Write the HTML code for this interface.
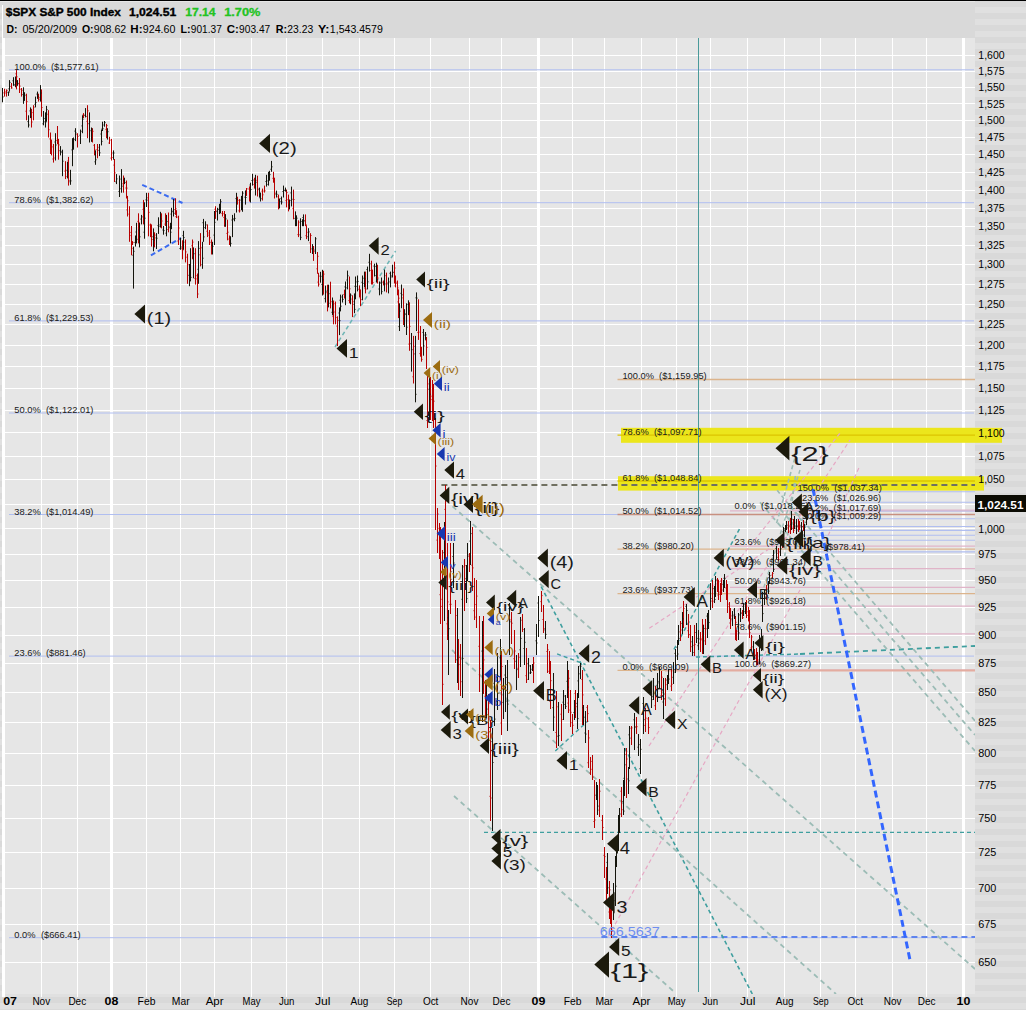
<!DOCTYPE html><html><head><meta charset="utf-8"><style>
html,body{margin:0;padding:0;width:1026px;height:1010px;overflow:hidden;background:#d9d9d9}
svg{display:block}
text{font-family:"Liberation Sans", sans-serif}
</style></head><body>
<svg width="1026" height="1010" viewBox="0 0 1026 1010">
<defs>
<pattern id="stripes" x="0" y="7" width="12" height="12" patternUnits="userSpaceOnUse">
<rect x="0" y="0" width="12" height="6" fill="#e0e0e0"/><rect x="0" y="6" width="12" height="6" fill="#d9d9d9"/>
</pattern>
<clipPath id="plot"><rect x="2" y="38" width="973" height="956"/></clipPath>
</defs>
<rect x="0" y="0" width="1026" height="1010" fill="url(#stripes)"/>
<rect x="0" y="0" width="1026" height="1" fill="#000"/>
<rect x="0" y="1" width="975" height="1" fill="#e6e6e6"/>
<rect x="2" y="5" width="1" height="989" fill="#fff"/>
<rect x="3" y="2" width="972" height="36" fill="#d9d9d9"/>
<rect x="3" y="38" width="972" height="956" fill="#e6e6e6"/>

<text x="5.8" y="15.8" font-size="11" font-weight="bold" fill="#000" textLength="115.1" lengthAdjust="spacingAndGlyphs" stroke="#000" stroke-width="0.35">$SPX S&amp;P 500 Index</text>
<text x="128.9" y="15.8" font-size="11" font-weight="bold" fill="#000" textLength="47.4" lengthAdjust="spacingAndGlyphs" stroke="#000" stroke-width="0.35">1,024.51</text>
<text x="185.2" y="15.8" font-size="11" font-weight="bold" fill="#22c322" textLength="30.4" lengthAdjust="spacingAndGlyphs" stroke="#22c322" stroke-width="0.3">17.14</text>
<text x="224.2" y="15.8" font-size="11" font-weight="bold" fill="#22c322" textLength="36.2" lengthAdjust="spacingAndGlyphs" stroke="#22c322" stroke-width="0.3">1.70%</text>
<text x="6.5" y="32.5" font-size="11" font-weight="bold" fill="#000" textLength="11.0" lengthAdjust="spacingAndGlyphs">D:</text>
<text x="22.5" y="32.5" font-size="11" font-weight="normal" fill="#000" textLength="54.6" lengthAdjust="spacingAndGlyphs">05/20/2009</text>
<text x="81.9" y="32.5" font-size="11" font-weight="bold" fill="#000" textLength="11.6" lengthAdjust="spacingAndGlyphs">O:</text>
<text x="93.8" y="32.5" font-size="11" font-weight="normal" fill="#000" textLength="32.4" lengthAdjust="spacingAndGlyphs">908.62</text>
<text x="130.3" y="32.5" font-size="11" font-weight="bold" fill="#000" textLength="12.2" lengthAdjust="spacingAndGlyphs">H:</text>
<text x="142.8" y="32.5" font-size="11" font-weight="normal" fill="#000" textLength="32.6" lengthAdjust="spacingAndGlyphs">924.60</text>
<text x="180.4" y="32.5" font-size="11" font-weight="bold" fill="#000" textLength="10.1" lengthAdjust="spacingAndGlyphs">L:</text>
<text x="190.8" y="32.5" font-size="11" font-weight="normal" fill="#000" textLength="31.1" lengthAdjust="spacingAndGlyphs">901.37</text>
<text x="226.7" y="32.5" font-size="11" font-weight="bold" fill="#000" textLength="12.1" lengthAdjust="spacingAndGlyphs">C:</text>
<text x="239.1" y="32.5" font-size="11" font-weight="normal" fill="#000" textLength="31.1" lengthAdjust="spacingAndGlyphs">903.47</text>
<text x="275.7" y="32.5" font-size="11" font-weight="bold" fill="#000" textLength="11.3" lengthAdjust="spacingAndGlyphs">R:</text>
<text x="287.3" y="32.5" font-size="11" font-weight="normal" fill="#000" textLength="25.9" lengthAdjust="spacingAndGlyphs">23.23</text>
<text x="318.0" y="32.5" font-size="11" font-weight="bold" fill="#000" textLength="11.5" lengthAdjust="spacingAndGlyphs">Y:</text>
<text x="329.8" y="32.5" font-size="11" font-weight="normal" fill="#000" textLength="53.0" lengthAdjust="spacingAndGlyphs">1,543.4579</text>
<rect x="3" y="962" width="972" height="1" fill="#fff"/>
<rect x="3" y="924" width="972" height="1" fill="#fff"/>
<rect x="3" y="888" width="972" height="1" fill="#fff"/>
<rect x="3" y="852" width="972" height="1" fill="#fff"/>
<rect x="3" y="818" width="972" height="1" fill="#fff"/>
<rect x="3" y="785" width="972" height="1" fill="#fff"/>
<rect x="3" y="753" width="972" height="1" fill="#fff"/>
<rect x="3" y="722" width="972" height="1" fill="#fff"/>
<rect x="3" y="692" width="972" height="1" fill="#fff"/>
<rect x="3" y="663" width="972" height="1" fill="#fff"/>
<rect x="3" y="635" width="972" height="1" fill="#fff"/>
<rect x="3" y="607" width="972" height="1" fill="#fff"/>
<rect x="3" y="580" width="972" height="1" fill="#fff"/>
<rect x="3" y="554" width="972" height="1" fill="#fff"/>
<rect x="3" y="528" width="972" height="1" fill="#fff"/>
<rect x="3" y="504" width="972" height="1" fill="#fff"/>
<rect x="3" y="479" width="972" height="1" fill="#fff"/>
<rect x="3" y="456" width="972" height="1" fill="#fff"/>
<rect x="3" y="432" width="972" height="1" fill="#fff"/>
<rect x="3" y="410" width="972" height="1" fill="#fff"/>
<rect x="3" y="388" width="972" height="1" fill="#fff"/>
<rect x="3" y="366" width="972" height="1" fill="#fff"/>
<rect x="3" y="345" width="972" height="1" fill="#fff"/>
<rect x="3" y="324" width="972" height="1" fill="#fff"/>
<rect x="3" y="304" width="972" height="1" fill="#fff"/>
<rect x="3" y="284" width="972" height="1" fill="#fff"/>
<rect x="3" y="264" width="972" height="1" fill="#fff"/>
<rect x="3" y="245" width="972" height="1" fill="#fff"/>
<rect x="3" y="226" width="972" height="1" fill="#fff"/>
<rect x="3" y="208" width="972" height="1" fill="#fff"/>
<rect x="3" y="190" width="972" height="1" fill="#fff"/>
<rect x="3" y="172" width="972" height="1" fill="#fff"/>
<rect x="3" y="154" width="972" height="1" fill="#fff"/>
<rect x="3" y="137" width="972" height="1" fill="#fff"/>
<rect x="3" y="120" width="972" height="1" fill="#fff"/>
<rect x="3" y="103" width="972" height="1" fill="#fff"/>
<rect x="3" y="87" width="972" height="1" fill="#fff"/>
<rect x="3" y="71" width="972" height="1" fill="#fff"/>
<rect x="3" y="55" width="972" height="1" fill="#fff"/>
<rect x="2" y="38" width="3" height="959" fill="#fff"/>
<rect x="41" y="38" width="1" height="959" fill="#fff"/>
<rect x="77" y="38" width="1" height="959" fill="#fff"/>
<rect x="110" y="38" width="3" height="959" fill="#fff"/>
<rect x="146" y="38" width="1" height="959" fill="#fff"/>
<rect x="180" y="38" width="1" height="959" fill="#fff"/>
<rect x="214" y="38" width="1" height="959" fill="#fff"/>
<rect x="251" y="38" width="1" height="959" fill="#fff"/>
<rect x="286" y="38" width="1" height="959" fill="#fff"/>
<rect x="322" y="38" width="1" height="959" fill="#fff"/>
<rect x="359" y="38" width="1" height="959" fill="#fff"/>
<rect x="394" y="38" width="1" height="959" fill="#fff"/>
<rect x="430" y="38" width="1" height="959" fill="#fff"/>
<rect x="469" y="38" width="1" height="959" fill="#fff"/>
<rect x="501" y="38" width="1" height="959" fill="#fff"/>
<rect x="537" y="38" width="3" height="959" fill="#fff"/>
<rect x="572" y="38" width="1" height="959" fill="#fff"/>
<rect x="604" y="38" width="1" height="959" fill="#fff"/>
<rect x="641" y="38" width="1" height="959" fill="#fff"/>
<rect x="676" y="38" width="1" height="959" fill="#fff"/>
<rect x="710" y="38" width="1" height="959" fill="#fff"/>
<rect x="747" y="38" width="1" height="959" fill="#fff"/>
<rect x="784" y="38" width="1" height="959" fill="#fff"/>
<rect x="820" y="38" width="1" height="959" fill="#fff"/>
<rect x="855" y="38" width="1" height="959" fill="#fff"/>
<rect x="892" y="38" width="1" height="959" fill="#fff"/>
<rect x="926" y="38" width="1" height="959" fill="#fff"/>
<rect x="962" y="38" width="3" height="959" fill="#fff"/>
<text x="3.2" y="1004.7" font-size="10.5" font-weight="bold" fill="#000" textLength="13.8" lengthAdjust="spacingAndGlyphs">07</text>
<text x="32.4" y="1004.7" font-size="10.5" font-weight="normal" fill="#000" textLength="17.8" lengthAdjust="spacingAndGlyphs">Nov</text>
<text x="68.4" y="1004.7" font-size="10.5" font-weight="normal" fill="#000" textLength="17.8" lengthAdjust="spacingAndGlyphs">Dec</text>
<text x="104.6" y="1004.7" font-size="10.5" font-weight="bold" fill="#000" textLength="13.8" lengthAdjust="spacingAndGlyphs">08</text>
<text x="137.6" y="1004.7" font-size="10.5" font-weight="normal" fill="#000" textLength="17.8" lengthAdjust="spacingAndGlyphs">Feb</text>
<text x="171.8" y="1004.7" font-size="10.5" font-weight="normal" fill="#000" textLength="17.8" lengthAdjust="spacingAndGlyphs">Mar</text>
<text x="205.7" y="1004.7" font-size="10.5" font-weight="normal" fill="#000" textLength="17.8" lengthAdjust="spacingAndGlyphs">Apr</text>
<text x="242.6" y="1004.7" font-size="10.5" font-weight="normal" fill="#000" textLength="17.8" lengthAdjust="spacingAndGlyphs">May</text>
<text x="278.9" y="1004.7" font-size="10.5" font-weight="normal" fill="#000" textLength="15.5" lengthAdjust="spacingAndGlyphs">Jun</text>
<text x="314.9" y="1004.7" font-size="10.5" font-weight="normal" fill="#000" textLength="15.5" lengthAdjust="spacingAndGlyphs">Jul</text>
<text x="350.6" y="1004.7" font-size="10.5" font-weight="normal" fill="#000" textLength="17.8" lengthAdjust="spacingAndGlyphs">Aug</text>
<text x="386.8" y="1004.7" font-size="10.5" font-weight="normal" fill="#000" textLength="15.5" lengthAdjust="spacingAndGlyphs">Sep</text>
<text x="422.9" y="1004.7" font-size="10.5" font-weight="normal" fill="#000" textLength="15.5" lengthAdjust="spacingAndGlyphs">Oct</text>
<text x="460.6" y="1004.7" font-size="10.5" font-weight="normal" fill="#000" textLength="17.8" lengthAdjust="spacingAndGlyphs">Nov</text>
<text x="492.6" y="1004.7" font-size="10.5" font-weight="normal" fill="#000" textLength="17.8" lengthAdjust="spacingAndGlyphs">Dec</text>
<text x="531.6" y="1004.7" font-size="10.5" font-weight="bold" fill="#000" textLength="13.8" lengthAdjust="spacingAndGlyphs">09</text>
<text x="563.8" y="1004.7" font-size="10.5" font-weight="normal" fill="#000" textLength="17.8" lengthAdjust="spacingAndGlyphs">Feb</text>
<text x="595.5" y="1004.7" font-size="10.5" font-weight="normal" fill="#000" textLength="17.8" lengthAdjust="spacingAndGlyphs">Mar</text>
<text x="632.5" y="1004.7" font-size="10.5" font-weight="normal" fill="#000" textLength="17.8" lengthAdjust="spacingAndGlyphs">Apr</text>
<text x="667.7" y="1004.7" font-size="10.5" font-weight="normal" fill="#000" textLength="17.8" lengthAdjust="spacingAndGlyphs">May</text>
<text x="702.5" y="1004.7" font-size="10.5" font-weight="normal" fill="#000" textLength="15.5" lengthAdjust="spacingAndGlyphs">Jun</text>
<text x="739.9" y="1004.7" font-size="10.5" font-weight="normal" fill="#000" textLength="15.5" lengthAdjust="spacingAndGlyphs">Jul</text>
<text x="775.8" y="1004.7" font-size="10.5" font-weight="normal" fill="#000" textLength="17.8" lengthAdjust="spacingAndGlyphs">Aug</text>
<text x="813.0" y="1004.7" font-size="10.5" font-weight="normal" fill="#000" textLength="15.5" lengthAdjust="spacingAndGlyphs">Sep</text>
<text x="847.6" y="1004.7" font-size="10.5" font-weight="normal" fill="#000" textLength="15.5" lengthAdjust="spacingAndGlyphs">Oct</text>
<text x="883.8" y="1004.7" font-size="10.5" font-weight="normal" fill="#000" textLength="17.8" lengthAdjust="spacingAndGlyphs">Nov</text>
<text x="917.7" y="1004.7" font-size="10.5" font-weight="normal" fill="#000" textLength="17.8" lengthAdjust="spacingAndGlyphs">Dec</text>
<text x="956.5" y="1004.7" font-size="10.5" font-weight="bold" fill="#000" textLength="13.8" lengthAdjust="spacingAndGlyphs">10</text>
<g clip-path="url(#plot)">
<rect x="621" y="427.8" width="354" height="15" fill="#ece61c"/>
<rect x="618" y="476.2" width="357" height="14.4" fill="#ece61c"/>
<line x1="9" y1="69.8" x2="974" y2="69.8" stroke="#b0bef0" stroke-width="1.0" opacity="1"/>
<line x1="9" y1="202.7" x2="974" y2="202.7" stroke="#b0bef0" stroke-width="1.0" opacity="1"/>
<line x1="9" y1="320.9" x2="974" y2="320.9" stroke="#b0bef0" stroke-width="1.0" opacity="1"/>
<line x1="9" y1="413.0" x2="974" y2="413.0" stroke="#b0bef0" stroke-width="1.0" opacity="1"/>
<line x1="9" y1="514.5" x2="974" y2="514.5" stroke="#b0bef0" stroke-width="1.0" opacity="1"/>
<line x1="9" y1="656.1" x2="974" y2="656.1" stroke="#b0bef0" stroke-width="1.0" opacity="1"/>
<line x1="9" y1="937.7" x2="974" y2="937.7" stroke="#b0bef0" stroke-width="1.0" opacity="1"/>
<line x1="617.5" y1="379.5" x2="975" y2="379.5" stroke="#dcb48c" stroke-width="1.3" opacity="1"/>
<line x1="617.5" y1="435.1" x2="975" y2="435.1" stroke="#dcc400" stroke-width="1.3" opacity="1"/>
<line x1="617.5" y1="481.0" x2="975" y2="481.0" stroke="#dcc400" stroke-width="1.3" opacity="1"/>
<line x1="617.5" y1="514.5" x2="975" y2="514.5" stroke="#c89080" stroke-width="1.3" opacity="1"/>
<line x1="617.5" y1="549.1" x2="975" y2="549.1" stroke="#dcb48c" stroke-width="1.3" opacity="1"/>
<line x1="617.5" y1="593.7" x2="975" y2="593.7" stroke="#dcb48c" stroke-width="1.3" opacity="1"/>
<line x1="617.5" y1="670.3" x2="975" y2="670.3" stroke="#dcb48c" stroke-width="1.3" opacity="1"/>
<line x1="730" y1="510.8" x2="975" y2="510.8" stroke="#e0b4c8" stroke-width="1.2" opacity="1"/>
<line x1="730" y1="546.2" x2="975" y2="546.2" stroke="#e0b4c8" stroke-width="1.2" opacity="1"/>
<line x1="730" y1="568.7" x2="975" y2="568.7" stroke="#e0b4c8" stroke-width="1.2" opacity="1"/>
<line x1="730" y1="587.3" x2="975" y2="587.3" stroke="#e0b4c8" stroke-width="1.2" opacity="1"/>
<line x1="730" y1="606.2" x2="975" y2="606.2" stroke="#e0b4c8" stroke-width="1.2" opacity="1"/>
<line x1="730" y1="633.8" x2="975" y2="633.8" stroke="#e0b4c8" stroke-width="1.2" opacity="1"/>
<line x1="730" y1="670.1" x2="975" y2="670.1" stroke="#e0b4c8" stroke-width="1.2" opacity="1"/>
<line x1="797" y1="491.8" x2="975" y2="491.8" stroke="#b0bef0" stroke-width="1.1" opacity="1"/>
<line x1="797" y1="502.2" x2="975" y2="502.2" stroke="#b0bef0" stroke-width="1.1" opacity="1"/>
<line x1="797" y1="511.0" x2="975" y2="511.0" stroke="#b0bef0" stroke-width="1.1" opacity="1"/>
<line x1="797" y1="518.7" x2="975" y2="518.7" stroke="#b0bef0" stroke-width="1.1" opacity="1"/>
<line x1="797" y1="526.5" x2="975" y2="526.5" stroke="#b0bef0" stroke-width="1.1" opacity="1"/>
<line x1="797" y1="530.4" x2="975" y2="530.4" stroke="#b0bef0" stroke-width="1.1" opacity="1"/>
<line x1="797" y1="535.3" x2="975" y2="535.3" stroke="#b0bef0" stroke-width="1.1" opacity="1"/>
<line x1="797" y1="540.2" x2="975" y2="540.2" stroke="#b0bef0" stroke-width="1.1" opacity="1"/>
<line x1="797" y1="551.9" x2="975" y2="551.9" stroke="#b0bef0" stroke-width="1.1" opacity="1"/>
<line x1="790" y1="510.0" x2="975" y2="510.0" stroke="#e0b4c8" stroke-width="1.2" opacity="1"/>
<line x1="665" y1="670.4" x2="975" y2="670.4" stroke="#e4aca0" stroke-width="2" opacity="1"/>
<line x1="441.4" y1="485.1" x2="975" y2="485.1" stroke="#707060" stroke-width="2" stroke-dasharray="6,4" opacity="1"/>
<line x1="484" y1="832.4" x2="975" y2="832.4" stroke="#3f9f9f" stroke-width="1.3" stroke-dasharray="4,3" opacity="1"/>
<line x1="601.4" y1="937.0" x2="975" y2="937.0" stroke="#5f84ee" stroke-width="2" stroke-dasharray="6,4" opacity="1"/>
<line x1="142.2" y1="184.8" x2="182.5" y2="203.0" stroke="#3c6cf0" stroke-width="2" stroke-dasharray="5,3"/>
<line x1="150.9" y1="255.3" x2="181.0" y2="237.9" stroke="#3c6cf0" stroke-width="2" stroke-dasharray="5,3"/>
<line x1="335.0" y1="347.0" x2="395.6" y2="251.0" stroke="#6cb4b4" stroke-width="1.5" stroke-dasharray="4,3"/>
<line x1="452.5" y1="506.3" x2="975.0" y2="969.0" stroke="#9cbcb6" stroke-width="1.8" stroke-dasharray="5,4"/>
<line x1="541.2" y1="586.7" x2="752.3" y2="994.0" stroke="#3f9f9f" stroke-width="1.6" stroke-dasharray="4,3"/>
<line x1="452.0" y1="650.0" x2="836.0" y2="994.0" stroke="#9cbcb6" stroke-width="1.8" stroke-dasharray="5,4"/>
<line x1="454.0" y1="796.0" x2="675.0" y2="992.6" stroke="#9cbcb6" stroke-width="1.8" stroke-dasharray="5,4"/>
<line x1="557.1" y1="653.9" x2="585.6" y2="664.5" stroke="#3f9f9f" stroke-width="1.4" stroke-dasharray="4,3"/>
<line x1="555.3" y1="751.0" x2="588.3" y2="720.7" stroke="#3f9f9f" stroke-width="1.4" stroke-dasharray="4,3"/>
<line x1="674.0" y1="649.4" x2="740.0" y2="528.0" stroke="#3f9f9f" stroke-width="1.5" stroke-dasharray="4,3"/>
<line x1="696.0" y1="657.0" x2="800.0" y2="654.0" stroke="#3f9f9f" stroke-width="1.5" stroke-dasharray="4,3"/>
<line x1="800.0" y1="654.0" x2="975.0" y2="646.0" stroke="#3f9f9f" stroke-width="1.8" stroke-dasharray="5,4"/>
<line x1="608.4" y1="936.5" x2="800.0" y2="590.0" stroke="#e6a8c4" stroke-width="1.2" stroke-dasharray="4,3"/>
<line x1="649.0" y1="746.0" x2="850.0" y2="440.0" stroke="#e6a8c4" stroke-width="1.2" stroke-dasharray="4,3"/>
<line x1="649.3" y1="628.3" x2="790.0" y2="535.0" stroke="#e6a8c4" stroke-width="1.2" stroke-dasharray="4,3"/>
<line x1="760.0" y1="502.4" x2="975.0" y2="751.0" stroke="#9cbcb6" stroke-width="1.8" stroke-dasharray="5,4"/>
<line x1="780.0" y1="508.8" x2="975.0" y2="735.0" stroke="#9cbcb6" stroke-width="1.8" stroke-dasharray="5,4"/>
<line x1="790.0" y1="505.7" x2="975.0" y2="720.8" stroke="#9cbcb6" stroke-width="1.8" stroke-dasharray="5,4"/>
<line x1="813.0" y1="489.0" x2="910.5" y2="962.5" stroke="#3366ff" stroke-width="3" stroke-dasharray="7,4"/>
<line x1="794.7" y1="458.6" x2="776.5" y2="523.5" stroke="#9cbcb6" stroke-width="1.6" stroke-dasharray="4,3"/>
<line x1="795.4" y1="476.0" x2="784.4" y2="558.4" stroke="#9cbcb6" stroke-width="1.6" stroke-dasharray="4,3"/>
<line x1="777.2" y1="490.3" x2="806.5" y2="526.7" stroke="#9cbcb6" stroke-width="1.6" stroke-dasharray="4,3"/>
<line x1="800.0" y1="470.0" x2="760.0" y2="600.0" stroke="#9cbcb6" stroke-width="1.4" stroke-dasharray="4,3"/>
<line x1="839.8" y1="433.3" x2="740.0" y2="558.4" stroke="#e6a8c4" stroke-width="1.2" stroke-dasharray="4,3"/>
<line x1="858.8" y1="468.0" x2="827.0" y2="538.0" stroke="#e6a8c4" stroke-width="1.2" stroke-dasharray="4,3"/>
<rect x="698" y="38" width="1" height="954" fill="#4a9a9a"/>
<path d="M4.5,88.7V96.6M3.5,92.9h1M4.5,91.8h1M6.5,89.4V96.6M5.5,93.1h1M6.5,90.4h1M11.5,83.0V88.7M10.5,86.4h1M11.5,87.9h1M16.5,70.1V89.4M15.5,73.8h1M16.5,76.8h1M19.5,78.0V93.0M18.5,83.9h1M19.5,86.1h1M21.5,88.0V96.6M20.5,89.3h1M21.5,90.3h1M26.5,93.7V120.3M25.5,111.2h1M26.5,101.6h1M31.5,108.8V127.5M30.5,116.9h1M31.5,122.0h1M33.5,105.2V120.3M32.5,112.6h1M33.5,107.2h1M38.5,93.7V101.6M37.5,98.2h1M38.5,97.4h1M41.5,89.4V116.7M40.5,93.5h1M41.5,107.5h1M48.5,110.2V137.5M47.5,114.2h1M48.5,129.7h1M50.5,132.5V154.0M49.5,138.9h1M50.5,141.4h1M51.5,139.6V155.4M50.5,142.2h1M51.5,146.9h1M53.5,144.0V162.6M52.5,159.0h1M53.5,158.0h1M57.5,126.0V144.0M56.5,140.5h1M57.5,141.6h1M58.5,138.9V159.7M57.5,143.9h1M58.5,144.9h1M65.5,161.2V179.1M64.5,171.1h1M65.5,176.6h1M68.5,156.9V185.6M67.5,161.0h1M68.5,180.4h1M77.5,133.2V147.5M76.5,134.6h1M77.5,136.4h1M83.5,113.1V118.1M82.5,115.0h1M83.5,115.1h1M87.5,105.2V138.2M86.5,121.3h1M87.5,110.8h1M92.5,128.2V142.5M91.5,135.7h1M92.5,131.3h1M94.5,144.0V155.4M93.5,145.3h1M94.5,149.9h1M97.5,144.0V158.3M96.5,149.6h1M97.5,147.3h1M106.5,123.9V138.2M105.5,129.4h1M106.5,125.6h1M109.5,136.8V144.0M108.5,143.0h1M109.5,140.1h1M111.5,138.9V160.5M110.5,158.1h1M111.5,157.5h1M114.5,159.0V182.0M113.5,165.1h1M114.5,172.8h1M123.5,175.5V192.7M122.5,183.8h1M123.5,179.7h1M126.5,180.5V198.5M125.5,188.0h1M126.5,188.1h1M127.5,195.9V216.5M126.5,209.9h1M127.5,200.8h1M129.5,206.2V241.8M128.5,214.1h1M129.5,235.6h1M131.5,226.0V255.3M130.5,232.4h1M131.5,248.3h1M132.5,241.1V245.0M131.5,243.5h1M132.5,242.6h1M138.5,213.3V243.4M137.5,221.4h1M138.5,222.4h1M143.5,199.9V224.4M142.5,209.3h1M143.5,211.3h1M148.5,192.8V236.3M147.5,197.8h1M148.5,212.4h1M150.5,223.6V237.1M149.5,225.0h1M150.5,233.6h1M151.5,224.4V246.6M150.5,235.0h1M151.5,239.5h1M154.5,232.3V247.4M153.5,243.3h1M154.5,235.1h1M161.5,213.3V228.4M160.5,220.9h1M161.5,221.0h1M165.5,213.3V226.0M164.5,224.1h1M165.5,221.7h1M168.5,212.5V232.3M167.5,229.5h1M168.5,227.8h1M175.5,198.3V214.9M174.5,209.5h1M175.5,208.7h1M176.5,210.2V218.1M175.5,216.6h1M176.5,217.1h1M178.5,215.7V245.0M177.5,241.0h1M178.5,228.0h1M182.5,240.3V259.3M181.5,248.7h1M182.5,250.0h1M185.5,239.5V262.4M184.5,242.1h1M185.5,251.9h1M187.5,253.7V283.8M186.5,257.2h1M187.5,264.7h1M192.5,239.5V259.3M191.5,245.7h1M192.5,242.1h1M195.5,248.2V284.6M194.5,278.4h1M195.5,275.7h1M197.5,273.5V298.1M196.5,278.9h1M197.5,294.0h1M200.5,233.1V266.4M199.5,254.8h1M200.5,247.8h1M207.5,224.4V237.1M206.5,231.3h1M207.5,235.1h1M209.5,230.0V245.0M208.5,233.0h1M209.5,237.8h1M211.5,239.5V254.5M210.5,242.3h1M211.5,242.9h1M215.5,206.2V218.9M214.5,209.3h1M215.5,211.0h1M222.5,211.0V216.5M221.5,213.4h1M222.5,213.7h1M224.5,211.0V226.8M223.5,217.5h1M224.5,219.0h1M227.5,219.7V240.3M226.5,233.4h1M227.5,232.2h1M229.5,235.5V245.0M228.5,239.1h1M229.5,236.9h1M237.5,196.7V204.6M236.5,198.5h1M237.5,200.3h1M239.5,199.1V212.5M238.5,210.8h1M239.5,210.9h1M246.5,188.0V195.9M245.5,192.0h1M246.5,188.8h1M249.5,186.4V201.5M248.5,189.0h1M249.5,192.7h1M254.5,177.7V188.6M253.5,184.5h1M254.5,185.1h1M257.5,175.7V196.5M256.5,180.3h1M257.5,189.9h1M262.5,188.6V200.5M261.5,191.1h1M262.5,194.8h1M264.5,185.6V192.6M263.5,191.0h1M264.5,190.8h1M273.5,171.8V182.7M272.5,178.3h1M273.5,178.8h1M274.5,177.7V198.5M273.5,179.9h1M274.5,193.1h1M278.5,194.6V209.4M277.5,196.8h1M278.5,204.8h1M286.5,189.6V207.4M285.5,200.6h1M286.5,192.5h1M288.5,194.6V211.4M287.5,199.7h1M288.5,206.2h1M293.5,189.6V219.3M292.5,208.6h1M293.5,199.5h1M298.5,220.3V237.1M297.5,234.6h1M298.5,222.2h1M305.5,214.4V226.2M304.5,220.5h1M305.5,224.6h1M306.5,225.2V239.1M305.5,235.7h1M306.5,232.3h1M310.5,233.2V253.0M309.5,242.8h1M310.5,235.5h1M313.5,246.0V260.9M312.5,249.2h1M313.5,251.6h1M317.5,252.0V273.8M316.5,268.8h1M317.5,256.3h1M318.5,272.8V286.6M317.5,282.1h1M318.5,284.2h1M323.5,270.8V294.6M322.5,278.4h1M323.5,274.1h1M327.5,284.7V311.4M326.5,292.7h1M327.5,293.0h1M330.5,281.7V308.4M329.5,303.3h1M330.5,301.7h1M333.5,300.5V324.3M332.5,316.6h1M333.5,303.8h1M335.5,301.5V324.3M334.5,312.0h1M335.5,317.5h1M337.5,316.3V346.0M336.5,326.1h1M337.5,320.5h1M344.5,289.6V298.5M343.5,294.5h1M344.5,293.3h1M349.5,276.5V303.3M348.5,300.5h1M349.5,288.8h1M352.5,295.3V317.1M351.5,299.1h1M352.5,301.7h1M359.5,285.4V297.3M358.5,289.3h1M359.5,295.8h1M360.5,289.4V306.2M359.5,297.9h1M360.5,299.6h1M365.5,271.6V293.4M364.5,288.6h1M365.5,289.0h1M371.5,260.7V284.5M370.5,270.5h1M371.5,280.7h1M372.5,269.6V284.5M371.5,281.3h1M372.5,282.6h1M377.5,264.7V283.5M376.5,276.3h1M377.5,278.0h1M383.5,280.5V285.4M382.5,282.2h1M383.5,281.5h1M386.5,272.6V292.4M385.5,275.7h1M386.5,282.9h1M394.5,261.7V283.5M393.5,272.1h1M394.5,268.0h1M395.5,275.5V287.4M394.5,285.9h1M395.5,283.4h1M397.5,280.5V295.3M396.5,282.2h1M397.5,287.9h1M398.5,289.4V318.1M397.5,301.9h1M398.5,298.2h1M403.5,288.4V325.0M402.5,297.9h1M403.5,315.4h1M409.5,302.3V350.8M408.5,344.1h1M409.5,326.4h1M413.5,335.9V383.5M412.5,376.8h1M413.5,346.3h1M418.5,299.3V339.9M417.5,332.5h1M418.5,332.1h1M420.5,326.0V356.7M419.5,353.6h1M420.5,352.0h1M421.5,346.8V361.7M420.5,350.5h1M421.5,359.4h1M426.5,337.0V369.0M425.5,340.3h1M426.5,347.4h1M427.5,373.0V428.0M426.5,420.5h1M427.5,383.9h1M430.5,377.0V420.0M429.5,409.6h1M430.5,396.2h1M432.5,380.0V421.0M431.5,399.6h1M432.5,396.3h1M433.5,384.0V428.0M432.5,395.2h1M433.5,401.2h1M435.5,418.0V530.0M434.5,431.9h1M435.5,466.0h1M437.5,508.0V553.0M436.5,540.1h1M437.5,514.0h1M439.5,523.0V559.0M438.5,528.4h1M439.5,553.1h1M440.5,527.0V624.0M439.5,594.7h1M440.5,606.4h1M442.5,550.0V705.0M441.5,599.3h1M442.5,684.3h1M445.5,485.0V561.0M444.5,509.4h1M445.5,492.8h1M447.5,543.0V640.0M446.5,623.8h1M447.5,601.9h1M450.5,543.0V614.0M449.5,604.4h1M450.5,604.3h1M455.5,600.0V663.0M454.5,653.1h1M455.5,615.5h1M458.5,639.0V690.0M457.5,668.9h1M458.5,657.5h1M460.5,644.0V696.0M459.5,664.3h1M460.5,681.7h1M464.5,559.0V611.0M463.5,566.9h1M464.5,565.6h1M469.5,553.0V572.0M468.5,556.4h1M469.5,562.5h1M472.5,527.0V591.0M471.5,565.2h1M472.5,567.9h1M474.5,578.0V620.0M473.5,610.7h1M474.5,604.5h1M476.5,580.0V628.0M475.5,617.1h1M476.5,596.1h1M479.5,616.0V692.0M478.5,646.3h1M479.5,668.5h1M483.5,616.0V694.0M482.5,679.0h1M483.5,659.9h1M485.5,680.0V719.0M484.5,696.3h1M485.5,714.9h1M488.5,694.0V747.0M487.5,741.3h1M488.5,703.6h1M490.5,720.0V821.0M489.5,796.3h1M490.5,798.0h1M501.5,651.0V735.0M500.5,723.0h1M501.5,666.5h1M511.5,612.0V644.0M510.5,619.9h1M511.5,623.2h1M514.5,630.0V669.0M513.5,658.7h1M514.5,651.0h1M518.5,653.0V678.0M517.5,668.3h1M518.5,657.3h1M522.5,614.0V632.0M521.5,620.2h1M522.5,629.5h1M526.5,648.0V683.0M525.5,675.7h1M526.5,679.4h1M533.5,657.0V683.0M532.5,669.2h1M533.5,663.0h1M541.5,591.0V612.0M540.5,601.6h1M541.5,595.6h1M543.5,605.0V633.0M542.5,619.5h1M543.5,628.5h1M547.5,644.0V673.0M546.5,651.5h1M547.5,649.8h1M549.5,651.0V674.0M548.5,671.3h1M549.5,662.2h1M550.5,661.0V709.0M549.5,701.4h1M550.5,680.7h1M556.5,691.0V748.0M555.5,732.5h1M556.5,706.8h1M561.5,704.0V741.0M560.5,714.2h1M561.5,719.5h1M568.5,670.0V713.0M567.5,703.1h1M568.5,678.3h1M570.5,690.0V727.0M569.5,710.0h1M570.5,712.3h1M572.5,714.0V734.0M571.5,722.7h1M572.5,725.3h1M575.5,690.0V718.0M574.5,693.3h1M575.5,706.7h1M582.5,670.0V725.0M581.5,679.5h1M582.5,694.9h1M587.5,705.0V722.0M586.5,707.4h1M587.5,713.6h1M588.5,730.0V768.0M587.5,762.7h1M588.5,737.9h1M590.5,757.0V775.0M589.5,773.1h1M590.5,769.3h1M592.5,755.0V780.0M591.5,761.4h1M592.5,777.1h1M594.5,780.0V828.0M593.5,821.5h1M594.5,820.0h1M599.5,779.0V817.0M598.5,810.1h1M599.5,791.2h1M602.5,815.0V840.0M601.5,820.4h1M602.5,827.5h1M604.5,847.0V878.0M603.5,855.3h1M604.5,856.6h1M606.5,867.0V901.0M605.5,879.1h1M606.5,871.4h1M609.5,881.0V919.0M608.5,912.0h1M609.5,889.9h1M610.5,897.0V924.0M609.5,902.2h1M610.5,911.2h1M611.5,906.0V938.0M610.5,918.4h1M611.5,931.5h1M621.5,787.0V817.0M620.5,791.2h1M621.5,809.7h1M626.5,748.0V798.0M625.5,754.4h1M626.5,759.0h1M631.5,726.0V745.0M630.5,728.2h1M631.5,727.9h1M636.5,717.0V734.0M635.5,726.6h1M636.5,726.7h1M645.5,708.0V732.0M644.5,725.4h1M645.5,718.1h1M648.5,717.0V734.0M647.5,718.9h1M648.5,727.5h1M655.5,686.0V710.0M654.5,705.7h1M655.5,689.2h1M661.5,671.0V700.0M660.5,695.7h1M661.5,677.2h1M665.5,678.0V706.0M664.5,699.0h1M665.5,684.7h1M671.5,669.0V691.0M670.5,686.1h1M671.5,684.3h1M680.5,621.0V641.0M679.5,631.9h1M680.5,630.0h1M683.5,601.0V628.0M682.5,624.5h1M683.5,608.4h1M688.5,614.0V638.0M687.5,630.7h1M688.5,634.5h1M690.5,625.0V652.0M689.5,634.8h1M690.5,646.7h1M694.5,625.0V656.0M693.5,645.3h1M694.5,644.6h1M700.5,632.0V652.0M699.5,643.1h1M700.5,638.9h1M702.5,619.0V654.0M701.5,639.9h1M702.5,624.7h1M705.5,619.0V645.0M704.5,640.9h1M705.5,628.8h1M712.5,580.0V608.0M711.5,601.1h1M712.5,601.2h1M717.5,578.0V592.0M716.5,580.7h1M717.5,579.8h1M718.5,580.0V600.0M717.5,595.0h1M718.5,592.1h1M720.5,583.0V602.0M719.5,594.5h1M720.5,589.3h1M721.5,578.0V595.0M720.5,581.0h1M721.5,590.0h1M726.5,580.0V600.0M725.5,587.9h1M726.5,587.1h1M727.5,584.0V613.0M726.5,598.6h1M727.5,606.7h1M729.5,602.0V619.0M728.5,604.1h1M729.5,609.3h1M730.5,608.0V629.0M729.5,623.1h1M730.5,615.9h1M735.5,616.0V640.0M734.5,618.4h1M735.5,622.3h1M736.5,630.0V641.0M735.5,639.7h1M736.5,631.1h1M742.5,610.0V619.0M741.5,612.8h1M742.5,617.7h1M746.5,600.0V618.0M745.5,613.1h1M746.5,611.8h1M748.5,607.0V621.0M747.5,615.4h1M748.5,612.4h1M749.5,610.0V638.0M748.5,621.6h1M749.5,632.7h1M751.5,635.0V651.0M750.5,648.0h1M751.5,636.9h1M754.5,649.0V660.0M753.5,653.4h1M754.5,657.9h1M756.5,648.0V665.0M755.5,656.0h1M756.5,656.9h1M757.5,652.0V665.0M756.5,661.1h1M757.5,660.0h1M766.5,585.0V600.0M765.5,589.4h1M766.5,588.8h1M772.5,572.0V578.0M771.5,575.1h1M772.5,573.4h1M778.5,548.0V561.0M777.5,553.3h1M778.5,559.5h1M782.5,535.0V548.0M781.5,542.9h1M782.5,537.4h1M788.5,521.0V533.0M787.5,528.0h1M788.5,526.1h1M790.5,518.0V534.0M789.5,531.2h1M790.5,525.1h1M793.5,519.0V533.0M792.5,528.5h1M793.5,530.3h1M798.5,519.0V532.0M797.5,526.8h1M798.5,521.3h1M799.5,521.0V530.0M798.5,527.5h1M799.5,527.0h1M803.5,520.0V531.0M802.5,526.6h1M803.5,524.7h1" stroke="#b80000" stroke-width="1" fill="none"/>
<path d="M2.5,88.0V102.3M1.5,91.2h1M2.5,96.9h1M8.5,91.6V95.9M7.5,92.3h1M8.5,92.3h1M9.5,80.1V91.6M8.5,88.8h1M9.5,82.4h1M13.5,77.2V85.8M12.5,80.8h1M13.5,84.8h1M15.5,76.5V87.3M14.5,85.0h1M15.5,80.1h1M17.5,80.1V85.8M16.5,81.5h1M17.5,83.4h1M23.5,87.3V103.8M22.5,94.6h1M23.5,93.1h1M24.5,92.3V100.9M23.5,96.3h1M24.5,95.2h1M28.5,115.3V127.5M27.5,121.6h1M28.5,125.0h1M30.5,107.4V118.1M29.5,110.9h1M30.5,116.9h1M35.5,96.6V107.4M34.5,104.3h1M35.5,102.6h1M37.5,91.6V98.8M36.5,94.1h1M37.5,96.3h1M40.5,85.1V101.6M39.5,99.2h1M40.5,93.0h1M43.5,111.0V125.3M42.5,123.8h1M43.5,121.8h1M45.5,112.4V127.5M44.5,118.5h1M45.5,122.0h1M46.5,105.9V121.7M45.5,113.3h1M46.5,109.6h1M55.5,133.2V160.5M54.5,142.0h1M55.5,145.0h1M60.5,146.1V155.4M59.5,150.7h1M60.5,151.4h1M62.5,149.7V176.2M61.5,152.4h1M62.5,161.2h1M67.5,161.9V178.4M66.5,170.3h1M67.5,171.7h1M70.5,169.8V184.8M69.5,181.8h1M70.5,180.9h1M72.5,138.2V166.2M71.5,149.9h1M72.5,143.3h1M73.5,137.5V149.7M72.5,139.3h1M73.5,139.4h1M75.5,128.2V141.1M74.5,131.1h1M75.5,133.0h1M80.5,129.6V144.0M79.5,135.2h1M80.5,131.3h1M82.5,115.3V133.2M81.5,125.9h1M82.5,119.2h1M85.5,108.1V117.4M84.5,115.4h1M85.5,116.4h1M89.5,112.4V142.5M88.5,123.7h1M89.5,121.8h1M91.5,127.5V141.8M90.5,130.7h1M91.5,129.2h1M95.5,150.4V164.8M94.5,161.8h1M95.5,159.8h1M99.5,144.0V156.1M98.5,150.4h1M99.5,152.8h1M101.5,129.6V145.4M100.5,134.0h1M101.5,141.4h1M102.5,121.7V131.0M101.5,129.0h1M102.5,128.7h1M104.5,121.0V126.7M103.5,125.0h1M104.5,122.6h1M107.5,128.2V139.6M106.5,131.9h1M107.5,131.7h1M113.5,150.4V159.7M112.5,153.0h1M113.5,153.0h1M116.5,174.1V184.1M115.5,181.8h1M116.5,178.9h1M119.5,175.5V197.0M118.5,191.4h1M119.5,179.1h1M121.5,169.1V192.7M120.5,188.7h1M121.5,186.2h1M124.5,177.7V184.1M123.5,180.0h1M124.5,182.5h1M133.5,246.6V288.6M132.5,255.2h1M133.5,251.3h1M135.5,235.5V246.6M134.5,242.4h1M135.5,241.3h1M136.5,222.8V243.4M135.5,232.0h1M136.5,239.3h1M139.5,222.8V247.4M138.5,230.0h1M139.5,236.8h1M141.5,214.9V224.4M140.5,219.1h1M141.5,216.9h1M144.5,202.3V238.7M143.5,232.2h1M144.5,218.2h1M146.5,192.8V207.0M145.5,199.9h1M146.5,200.2h1M153.5,228.4V251.3M152.5,236.7h1M153.5,240.2h1M156.5,233.1V249.0M155.5,237.9h1M156.5,238.2h1M158.5,217.3V233.9M157.5,225.7h1M158.5,226.4h1M160.5,211.8V227.6M159.5,224.9h1M160.5,219.0h1M163.5,226.0V234.7M162.5,230.0h1M163.5,230.6h1M166.5,214.9V236.3M165.5,233.2h1M166.5,221.5h1M170.5,222.8V243.4M169.5,226.9h1M170.5,232.2h1M171.5,207.8V229.2M170.5,214.1h1M171.5,211.2h1M173.5,199.1V216.5M172.5,211.8h1M173.5,213.3h1M180.5,237.9V249.8M179.5,248.5h1M180.5,247.0h1M183.5,230.8V249.8M182.5,235.6h1M183.5,237.5h1M189.5,264.0V286.2M188.5,275.3h1M189.5,267.4h1M190.5,248.2V281.4M189.5,272.5h1M190.5,277.4h1M193.5,247.4V278.3M192.5,257.2h1M193.5,253.7h1M198.5,241.1V283.8M197.5,269.3h1M198.5,248.4h1M202.5,241.8V268.8M201.5,264.7h1M202.5,258.2h1M203.5,218.9V241.8M202.5,222.7h1M203.5,236.9h1M205.5,221.3V229.2M204.5,227.5h1M205.5,224.9h1M212.5,241.8V254.5M211.5,245.2h1M212.5,246.3h1M214.5,211.0V245.0M213.5,235.1h1M214.5,222.3h1M217.5,207.8V220.5M216.5,211.6h1M217.5,209.2h1M219.5,203.8V214.1M218.5,209.4h1M219.5,206.4h1M220.5,199.1V213.3M219.5,211.2h1M220.5,201.7h1M225.5,214.1V226.8M224.5,225.4h1M225.5,218.9h1M230.5,236.3V246.6M229.5,237.9h1M230.5,243.4h1M232.5,214.9V237.1M231.5,220.0h1M232.5,218.6h1M234.5,213.3V221.3M233.5,219.6h1M234.5,218.4h1M236.5,192.8V212.5M235.5,198.6h1M236.5,199.4h1M241.5,195.9V210.2M240.5,200.1h1M241.5,208.4h1M242.5,191.2V211.8M241.5,199.1h1M242.5,193.2h1M245.5,190.4V204.6M244.5,197.2h1M245.5,197.5h1M250.5,182.7V202.5M249.5,185.0h1M250.5,189.5h1M252.5,173.8V185.6M251.5,180.5h1M252.5,180.0h1M255.5,174.8V195.5M254.5,183.3h1M255.5,182.3h1M259.5,187.6V197.5M258.5,189.0h1M259.5,195.2h1M260.5,192.6V201.5M259.5,197.9h1M260.5,198.7h1M266.5,174.8V186.6M265.5,181.5h1M266.5,184.4h1M268.5,171.8V185.6M267.5,180.9h1M268.5,175.7h1M269.5,170.8V180.7M268.5,172.8h1M269.5,174.6h1M271.5,160.9V171.8M270.5,169.3h1M271.5,166.8h1M276.5,190.6V197.5M275.5,194.1h1M276.5,194.3h1M279.5,198.5V208.4M278.5,200.1h1M279.5,201.6h1M281.5,196.5V204.5M280.5,198.6h1M281.5,202.0h1M283.5,185.6V197.5M282.5,191.5h1M283.5,190.5h1M285.5,187.6V191.6M284.5,190.2h1M285.5,190.4h1M289.5,199.5V209.4M288.5,205.0h1M289.5,200.6h1M291.5,186.6V206.4M290.5,192.9h1M291.5,199.3h1M295.5,211.4V226.2M294.5,218.4h1M295.5,218.4h1M296.5,215.3V226.2M295.5,224.2h1M296.5,218.2h1M300.5,218.3V240.1M299.5,234.8h1M300.5,237.4h1M302.5,219.3V226.2M301.5,221.5h1M302.5,221.2h1M303.5,214.4V226.2M302.5,217.5h1M303.5,221.1h1M308.5,228.2V241.1M307.5,236.7h1M308.5,231.9h1M312.5,244.1V254.0M311.5,248.9h1M312.5,248.6h1M315.5,237.1V254.0M314.5,250.1h1M315.5,238.8h1M320.5,271.8V282.7M319.5,276.1h1M320.5,276.3h1M322.5,269.8V295.5M321.5,284.5h1M322.5,279.8h1M325.5,285.6V302.5M324.5,298.6h1M325.5,291.2h1M328.5,284.7V307.4M327.5,290.4h1M328.5,293.7h1M332.5,297.5V315.3M331.5,312.3h1M332.5,312.7h1M339.5,307.4V335.1M338.5,313.0h1M339.5,320.7h1M340.5,294.6V311.4M339.5,300.2h1M340.5,306.2h1M342.5,294.6V302.5M341.5,297.0h1M342.5,299.5h1M345.5,281.5V305.2M344.5,286.9h1M345.5,287.8h1M347.5,270.6V289.4M346.5,280.0h1M347.5,275.8h1M350.5,293.4V304.3M349.5,296.1h1M350.5,295.2h1M354.5,293.4V313.2M353.5,304.4h1M354.5,309.4h1M355.5,276.5V299.3M354.5,286.3h1M355.5,286.4h1M357.5,275.5V291.4M356.5,281.9h1M357.5,281.4h1M362.5,275.5V300.3M361.5,282.3h1M362.5,283.4h1M364.5,271.6V287.4M363.5,278.2h1M364.5,278.8h1M367.5,266.6V289.4M366.5,269.5h1M367.5,281.8h1M369.5,253.8V271.6M368.5,262.3h1M369.5,263.9h1M374.5,263.7V276.5M373.5,266.1h1M374.5,266.5h1M376.5,262.7V282.5M375.5,275.5h1M376.5,279.6h1M379.5,281.5V295.3M378.5,289.0h1M379.5,283.3h1M381.5,277.5V294.4M380.5,282.3h1M381.5,291.6h1M384.5,269.6V291.4M383.5,282.9h1M384.5,284.0h1M388.5,277.5V293.4M387.5,284.0h1M388.5,281.9h1M390.5,271.6V287.4M389.5,273.3h1M390.5,277.0h1M392.5,264.7V277.5M391.5,275.8h1M392.5,272.6h1M399.5,303.3V331.0M398.5,326.6h1M399.5,311.1h1M401.5,284.5V308.2M400.5,293.3h1M401.5,294.8h1M404.5,309.2V327.0M403.5,318.2h1M404.5,313.9h1M406.5,303.3V335.0M405.5,314.3h1M406.5,327.2h1M408.5,300.3V315.1M407.5,304.4h1M408.5,310.8h1M411.5,333.0V371.6M410.5,343.7h1M411.5,349.7h1M415.5,335.9V402.3M414.5,353.9h1M415.5,394.3h1M416.5,292.4V331.0M415.5,297.8h1M416.5,298.1h1M423.5,329.0V355.7M422.5,332.4h1M423.5,345.9h1M425.5,332.0V339.9M424.5,335.1h1M425.5,334.9h1M429.5,378.0V420.0M428.5,389.2h1M429.5,394.2h1M444.5,522.0V621.0M443.5,552.7h1M444.5,588.7h1M448.5,610.0V675.0M447.5,617.8h1M448.5,628.7h1M453.5,543.0V588.0M452.5,556.5h1M453.5,563.0h1M457.5,608.0V683.0M456.5,659.8h1M457.5,664.9h1M462.5,565.0V698.0M461.5,599.3h1M462.5,658.4h1M466.5,565.0V603.0M465.5,578.7h1M466.5,598.6h1M467.5,543.0V581.0M466.5,576.8h1M467.5,554.9h1M470.5,521.0V565.0M469.5,541.1h1M470.5,533.6h1M482.5,621.0V722.0M481.5,651.1h1M482.5,650.9h1M486.5,683.0V718.0M485.5,693.0h1M486.5,709.1h1M492.5,728.0V831.0M491.5,741.6h1M492.5,762.5h1M494.5,669.0V726.0M493.5,683.3h1M494.5,719.1h1M497.5,653.0V710.0M496.5,701.1h1M497.5,675.7h1M500.5,639.0V680.0M499.5,657.8h1M500.5,651.6h1M503.5,678.0V719.0M502.5,702.4h1M503.5,689.2h1M505.5,665.0V712.0M504.5,675.0h1M505.5,677.4h1M507.5,660.0V731.0M506.5,701.1h1M507.5,704.1h1M509.5,603.0V655.0M508.5,608.7h1M509.5,621.8h1M516.5,655.0V690.0M515.5,661.3h1M516.5,669.6h1M520.5,617.0V667.0M519.5,649.8h1M520.5,638.4h1M524.5,628.0V665.0M523.5,648.5h1M524.5,642.3h1M528.5,658.0V680.0M527.5,663.7h1M528.5,673.0h1M530.5,665.0V674.0M529.5,665.9h1M530.5,672.4h1M532.5,664.0V671.0M531.5,669.3h1M532.5,667.0h1M536.5,624.0V655.0M535.5,640.8h1M536.5,643.0h1M538.5,596.0V637.0M537.5,603.0h1M538.5,620.5h1M545.5,621.0V639.0M544.5,629.9h1M545.5,634.4h1M553.5,673.0V731.0M552.5,707.6h1M553.5,717.1h1M558.5,702.0V746.0M557.5,736.2h1M558.5,735.6h1M563.5,690.0V720.0M562.5,702.2h1M563.5,696.0h1M565.5,695.0V709.0M564.5,704.5h1M565.5,706.4h1M567.5,661.0V698.0M566.5,681.3h1M567.5,687.1h1M574.5,700.0V720.0M573.5,712.5h1M574.5,709.1h1M577.5,693.0V729.0M576.5,703.4h1M577.5,718.6h1M578.5,666.0V698.0M577.5,680.9h1M578.5,673.8h1M580.5,663.0V679.0M579.5,666.0h1M580.5,666.2h1M583.5,705.0V725.0M582.5,707.7h1M583.5,717.2h1M585.5,711.0V743.0M584.5,733.0h1M585.5,734.1h1M596.5,782.0V800.0M595.5,795.2h1M596.5,797.2h1M597.5,785.0V815.0M596.5,796.4h1M597.5,806.1h1M607.5,853.0V894.0M606.5,862.4h1M607.5,887.8h1M613.5,883.0V920.0M612.5,903.9h1M613.5,912.8h1M615.5,856.0V906.0M614.5,900.7h1M615.5,886.2h1M616.5,847.0V867.0M615.5,861.8h1M616.5,853.2h1M618.5,815.0V851.0M617.5,835.2h1M618.5,829.0h1M619.5,808.0V833.0M618.5,819.3h1M619.5,814.0h1M623.5,780.0V815.0M622.5,801.4h1M623.5,811.1h1M624.5,748.0V796.0M623.5,778.3h1M624.5,764.8h1M628.5,767.0V794.0M627.5,779.0h1M628.5,780.8h1M629.5,726.0V769.0M628.5,734.8h1M629.5,738.1h1M634.5,713.0V750.0M633.5,719.8h1M634.5,727.3h1M638.5,734.0V756.0M637.5,747.2h1M638.5,744.6h1M640.5,739.0V774.0M639.5,768.7h1M640.5,749.3h1M643.5,697.0V734.0M642.5,703.5h1M643.5,719.6h1M651.5,686.0V708.0M650.5,694.4h1M651.5,699.6h1M653.5,678.0V700.0M652.5,696.7h1M653.5,693.1h1M657.5,673.0V702.0M656.5,685.3h1M657.5,681.4h1M659.5,667.0V689.0M658.5,682.9h1M659.5,669.4h1M663.5,678.0V719.0M662.5,702.0h1M663.5,698.7h1M667.5,675.0V690.0M666.5,680.1h1M667.5,677.1h1M668.5,669.0V684.0M667.5,679.9h1M668.5,679.1h1M673.5,662.0V684.0M672.5,677.3h1M673.5,672.2h1M675.5,649.0V673.0M674.5,653.4h1M675.5,655.9h1M677.5,640.0V660.0M676.5,647.4h1M677.5,654.0h1M678.5,625.0V645.0M677.5,640.5h1M678.5,638.4h1M682.5,612.0V634.0M681.5,623.4h1M682.5,618.9h1M686.5,604.0V625.0M685.5,606.4h1M686.5,610.5h1M692.5,636.0V656.0M691.5,641.8h1M692.5,652.5h1M696.5,623.0V643.0M695.5,632.5h1M696.5,638.4h1M698.5,630.0V650.0M697.5,645.7h1M698.5,639.0h1M703.5,625.0V654.0M702.5,631.3h1M703.5,628.5h1M707.5,613.0V638.0M706.5,616.1h1M707.5,616.3h1M708.5,610.0V629.0M707.5,621.5h1M708.5,622.5h1M710.5,583.0V610.0M709.5,587.1h1M710.5,598.5h1M714.5,586.0V603.0M713.5,588.6h1M714.5,599.5h1M715.5,576.0V597.0M714.5,594.0h1M715.5,579.9h1M723.5,580.0V592.0M722.5,584.3h1M723.5,585.3h1M724.5,574.0V588.0M723.5,578.3h1M724.5,578.6h1M732.5,611.0V626.0M731.5,619.0h1M732.5,615.1h1M734.5,608.0V619.0M733.5,609.9h1M734.5,616.3h1M738.5,613.0V640.0M737.5,626.3h1M738.5,632.9h1M740.5,608.0V622.0M739.5,614.9h1M740.5,613.3h1M743.5,603.0V616.0M742.5,606.5h1M743.5,611.6h1M745.5,602.0V614.0M744.5,604.3h1M745.5,609.3h1M753.5,641.0V660.0M752.5,646.9h1M753.5,656.6h1M759.5,635.0V664.0M758.5,645.5h1M759.5,641.5h1M761.5,629.0V651.0M760.5,642.9h1M761.5,644.3h1M762.5,592.0V622.0M761.5,605.5h1M762.5,613.6h1M764.5,590.0V605.0M763.5,593.0h1M764.5,597.0h1M768.5,581.0V594.0M767.5,589.6h1M768.5,591.1h1M769.5,572.0V584.0M768.5,574.7h1M769.5,575.6h1M773.5,550.0V572.0M772.5,555.5h1M773.5,569.4h1M776.5,546.0V559.0M775.5,548.4h1M776.5,557.3h1M780.5,543.0V556.0M779.5,551.9h1M780.5,548.8h1M783.5,527.0V539.0M782.5,531.9h1M783.5,528.5h1M785.5,525.0V532.0M784.5,530.1h1M785.5,529.6h1M786.5,521.0V530.0M785.5,526.5h1M786.5,525.2h1M791.5,511.0V530.0M790.5,524.3h1M791.5,519.3h1M794.5,516.0V529.0M793.5,524.6h1M794.5,526.2h1M796.5,519.0V534.0M795.5,528.2h1M796.5,525.9h1M801.5,522.0V533.0M800.5,525.3h1M801.5,526.8h1M804.5,524.0V537.0M803.5,535.0h1M804.5,527.2h1M806.5,515.0V525.0M805.5,522.2h1M806.5,519.1h1" stroke="#14140c" stroke-width="1" fill="none"/>
<text x="14.3" y="69.9" font-size="9.3" fill="#1a1a1a">100.0%</text><text x="51.0" y="69.9" font-size="9.3" fill="#1a1a1a">($1,577.61)</text>
<text x="14.3" y="202.8" font-size="9.3" fill="#1a1a1a">78.6%</text><text x="45.9" y="202.8" font-size="9.3" fill="#1a1a1a">($1,382.62)</text>
<text x="14.3" y="321.0" font-size="9.3" fill="#1a1a1a">61.8%</text><text x="45.9" y="321.0" font-size="9.3" fill="#1a1a1a">($1,229.53)</text>
<text x="14.3" y="413.1" font-size="9.3" fill="#1a1a1a">50.0%</text><text x="45.9" y="413.1" font-size="9.3" fill="#1a1a1a">($1,122.01)</text>
<text x="14.3" y="514.6" font-size="9.3" fill="#1a1a1a">38.2%</text><text x="45.9" y="514.6" font-size="9.3" fill="#1a1a1a">($1,014.49)</text>
<text x="14.3" y="656.2" font-size="9.3" fill="#1a1a1a">23.6%</text><text x="45.9" y="656.2" font-size="9.3" fill="#1a1a1a">($881.46)</text>
<text x="14.3" y="937.8" font-size="9.3" fill="#1a1a1a">0.0%</text><text x="40.9" y="937.8" font-size="9.3" fill="#1a1a1a">($666.41)</text>
<text x="622.4" y="379.1" font-size="9.3" fill="#1a1a1a">100.0%</text><text x="659.1" y="379.1" font-size="9.3" fill="#1a1a1a">($1,159.95)</text>
<text x="622.4" y="434.7" font-size="9.3" fill="#1a1a1a">78.6%</text><text x="654.0" y="434.7" font-size="9.3" fill="#1a1a1a">($1,097.71)</text>
<text x="622.4" y="480.6" font-size="9.3" fill="#1a1a1a">61.8%</text><text x="654.0" y="480.6" font-size="9.3" fill="#1a1a1a">($1,048.84)</text>
<text x="622.4" y="514.1" font-size="9.3" fill="#1a1a1a">50.0%</text><text x="654.0" y="514.1" font-size="9.3" fill="#1a1a1a">($1,014.52)</text>
<text x="622.4" y="548.7" font-size="9.3" fill="#1a1a1a">38.2%</text><text x="654.0" y="548.7" font-size="9.3" fill="#1a1a1a">($980.20)</text>
<text x="622.4" y="593.3" font-size="9.3" fill="#1a1a1a">23.6%</text><text x="654.0" y="593.3" font-size="9.3" fill="#1a1a1a">($937.73)</text>
<text x="622.4" y="669.9" font-size="9.3" fill="#1a1a1a">0.0%</text><text x="649.0" y="669.9" font-size="9.3" fill="#1a1a1a">($869.09)</text>
<text x="734.5" y="509.0" font-size="9.3" fill="#1a1a1a">0.0%</text><text x="761.1" y="509.0" font-size="9.3" fill="#1a1a1a">($1,018.25)</text>
<text x="734.5" y="545.3" font-size="9.3" fill="#1a1a1a">23.6%</text><text x="766.1" y="545.3" font-size="9.3" fill="#1a1a1a">($983.09)</text>
<text x="734.5" y="564.8" font-size="9.3" fill="#1a1a1a">38.2%</text><text x="766.1" y="564.8" font-size="9.3" fill="#1a1a1a">($961.34)</text>
<text x="734.5" y="584.3" font-size="9.3" fill="#1a1a1a">50.0%</text><text x="766.1" y="584.3" font-size="9.3" fill="#1a1a1a">($943.76)</text>
<text x="734.5" y="603.8" font-size="9.3" fill="#1a1a1a">61.8%</text><text x="766.1" y="603.8" font-size="9.3" fill="#1a1a1a">($926.18)</text>
<text x="734.5" y="630.0" font-size="9.3" fill="#1a1a1a">78.6%</text><text x="766.1" y="630.0" font-size="9.3" fill="#1a1a1a">($901.15)</text>
<text x="734.5" y="667.0" font-size="9.3" fill="#1a1a1a">100.0%</text><text x="771.2" y="667.0" font-size="9.3" fill="#1a1a1a">($869.27)</text>
<text x="797.5" y="491.0" font-size="9.3" fill="#1a1a1a">150.0%</text><text x="834.2" y="491.0" font-size="9.3" fill="#1a1a1a">($1,037.34)</text>
<text x="802.0" y="501.3" font-size="9.3" fill="#1a1a1a">23.6%</text><text x="833.6" y="501.3" font-size="9.3" fill="#1a1a1a">($1,026.96)</text>
<text x="802.0" y="510.5" font-size="9.3" fill="#1a1a1a">38.2%</text><text x="833.6" y="510.5" font-size="9.3" fill="#1a1a1a">($1,017.69)</text>
<text x="802.0" y="518.7" font-size="9.3" fill="#1a1a1a">50.0%</text><text x="833.6" y="518.7" font-size="9.3" fill="#1a1a1a">($1,009.29)</text>
<text x="825" y="550" font-size="9.3" fill="#1a1a1a">($978.41)</text>
<text x="599.8" y="936" font-size="13.5" fill="#6f8ff0" textLength="60" lengthAdjust="spacingAndGlyphs">666.5637</text>
<path d="M259.1,143.4L270.0,133.7L270.0,153.1Z" fill="#1c1a0c"/><text x="271.8" y="153.5" font-size="16.1" fill="#1a1a1a" textLength="24.9" lengthAdjust="spacingAndGlyphs">(2)</text>
<path d="M134.4,313.9L145.0,304.4L145.0,323.4Z" fill="#1c1a0c"/><text x="146.8" y="323.8" font-size="15.8" fill="#1a1a1a" textLength="24.3" lengthAdjust="spacingAndGlyphs">(1)</text>
<path d="M368.7,245.8L378.6,237.0L378.6,254.7Z" fill="#1c1a0c"/><text x="380.4" y="255.1" font-size="14.7" fill="#1a1a1a" textLength="9.3" lengthAdjust="spacingAndGlyphs">2</text>
<path d="M336.5,348.4L347.0,339.0L347.0,357.7Z" fill="#1c1a0c"/><text x="348.8" y="358.1" font-size="15.5" fill="#1a1a1a" textLength="9.9" lengthAdjust="spacingAndGlyphs">1</text>
<path d="M416.2,279.5L425.0,271.6L425.0,287.4Z" fill="#1c1a0c"/><text x="426.8" y="287.8" font-size="13.1" fill="#1a1a1a" textLength="22.9" lengthAdjust="spacingAndGlyphs">{ii}</text>
<path d="M423.0,320.0L432.0,312.0L432.0,328.0Z" fill="#9c6c10"/><text x="433.8" y="328.4" font-size="11.8" fill="#9c6c10" textLength="17.2" lengthAdjust="spacingAndGlyphs">(ii)</text>
<path d="M432.7,366.5L440.0,360.0L440.0,373.0Z" fill="#9c6c10"/><text x="441.8" y="373.4" font-size="9.6" fill="#9c6c10" textLength="17.1" lengthAdjust="spacingAndGlyphs">(iv)</text>
<path d="M423.6,373.0L430.3,367.0L430.3,379.0Z" fill="#9c6c10"/><text x="432.1" y="379.4" font-size="8.9" fill="#9c6c10" textLength="10.5" lengthAdjust="spacingAndGlyphs">(i)</text>
<path d="M433.9,383.8L442.0,376.6L442.0,391.0Z" fill="#1838b0"/><text x="443.8" y="391.4" font-size="10.7" fill="#1838b0" textLength="5.8" lengthAdjust="spacingAndGlyphs">ii</text>
<path d="M413.8,411.8L423.0,403.6L423.0,420.0Z" fill="#1c1a0c"/><text x="424.8" y="420.4" font-size="13.6" fill="#1a1a1a" textLength="20.1" lengthAdjust="spacingAndGlyphs">{i}</text>
<path d="M432.4,430.3L440.6,423.0L440.6,437.6Z" fill="#1838b0"/><text x="442.4" y="438.0" font-size="10.8" fill="#1838b0" textLength="3.0" lengthAdjust="spacingAndGlyphs">i</text>
<path d="M428.5,438.5L435.8,432.0L435.8,445.0Z" fill="#9c6c10"/><text x="437.6" y="445.4" font-size="9.6" fill="#9c6c10" textLength="16.6" lengthAdjust="spacingAndGlyphs">(iii)</text>
<path d="M436.8,454.0L444.6,447.0L444.6,461.0Z" fill="#1838b0"/><text x="446.4" y="461.4" font-size="10.4" fill="#1838b0" textLength="9.0" lengthAdjust="spacingAndGlyphs">iv</text>
<path d="M444.3,470.1L454.0,461.4L454.0,478.8Z" fill="#1c1a0c"/><text x="455.8" y="479.2" font-size="14.4" fill="#1a1a1a" textLength="9.2" lengthAdjust="spacingAndGlyphs">4</text>
<path d="M439.6,495.4L449.3,486.7L449.3,504.0Z" fill="#1c1a0c"/><text x="451.1" y="504.4" font-size="14.4" fill="#1a1a1a" textLength="29.7" lengthAdjust="spacingAndGlyphs">{iv}</text>
<path d="M463.5,504.5L473.0,496.0L473.0,513.0Z" fill="#1c1a0c"/><text x="474.8" y="513.4" font-size="14.1" fill="#1a1a1a" textLength="24.7" lengthAdjust="spacingAndGlyphs">{ii}</text>
<path d="M472.0,504.2L482.6,494.7L482.6,513.7Z" fill="#9c6c10"/><text x="484.4" y="514.1" font-size="14.1" fill="#9c6c10" textLength="20.5" lengthAdjust="spacingAndGlyphs">(ii)</text>
<path d="M436.6,533.5L445.0,526.0L445.0,541.0Z" fill="#1838b0"/><text x="446.8" y="541.4" font-size="11.1" fill="#1838b0" textLength="9.1" lengthAdjust="spacingAndGlyphs">iii</text>
<path d="M440.6,562.4L448.0,555.7L448.0,569.0Z" fill="#1838b0"/><text x="449.8" y="569.4" font-size="9.8" fill="#1838b0" textLength="5.8" lengthAdjust="spacingAndGlyphs">v</text>
<path d="M440.0,572.0L446.7,566.0L446.7,578.0Z" fill="#9c6c10"/><text x="448.5" y="578.4" font-size="8.9" fill="#9c6c10" textLength="13.3" lengthAdjust="spacingAndGlyphs">(v)</text>
<path d="M438.3,582.5L446.7,575.0L446.7,590.0Z" fill="#1c1a0c"/><text x="448.5" y="590.4" font-size="12.4" fill="#1a1a1a" textLength="25.2" lengthAdjust="spacingAndGlyphs">{iii}</text>
<path d="M486.0,602.5L494.8,594.6L494.8,610.4Z" fill="#1c1a0c"/><text x="496.6" y="610.8" font-size="13.1" fill="#1a1a1a" textLength="27.1" lengthAdjust="spacingAndGlyphs">{iv}</text>
<path d="M506.5,598.5L516.2,589.8L516.2,607.2Z" fill="#1c1a0c"/><text x="518.0" y="607.6" font-size="14.4" fill="#1a1a1a" textLength="9.9" lengthAdjust="spacingAndGlyphs">A</text>
<path d="M486.7,613.5L494.0,607.0L494.0,620.0Z" fill="#9c6c10"/><text x="495.8" y="620.4" font-size="9.6" fill="#9c6c10" textLength="14.4" lengthAdjust="spacingAndGlyphs">(v)</text>
<path d="M487.8,619.5L494.0,614.0L494.0,625.0Z" fill="#1838b0"/><text x="495.8" y="625.4" font-size="8.1" fill="#1838b0" textLength="4.9" lengthAdjust="spacingAndGlyphs">a</text>
<path d="M484.3,647.5L492.7,640.0L492.7,655.0Z" fill="#9c6c10"/><text x="494.5" y="655.4" font-size="11.1" fill="#9c6c10" textLength="19.7" lengthAdjust="spacingAndGlyphs">(iv)</text>
<path d="M484.3,674.5L492.7,667.0L492.7,682.0Z" fill="#1838b0"/><text x="494.5" y="682.4" font-size="11.1" fill="#1838b0" textLength="6.9" lengthAdjust="spacingAndGlyphs">b</text>
<path d="M483.3,682.4L492.7,674.0L492.7,690.7Z" fill="#9c6c10"/><text x="494.5" y="691.1" font-size="12.4" fill="#9c6c10" textLength="18.5" lengthAdjust="spacingAndGlyphs">(x)</text>
<path d="M484.4,698.1L492.7,690.7L492.7,705.5Z" fill="#1838b0"/><text x="494.5" y="705.9" font-size="11.0" fill="#1838b0" textLength="6.8" lengthAdjust="spacingAndGlyphs">b</text>
<path d="M441.0,711.9L449.8,704.0L449.8,719.7Z" fill="#1c1a0c"/><text x="451.6" y="720.1" font-size="13.0" fill="#1a1a1a" textLength="23.4" lengthAdjust="spacingAndGlyphs">{v}</text>
<path d="M440.7,729.9L450.6,721.0L450.6,738.7Z" fill="#1c1a0c"/><text x="452.4" y="739.1" font-size="14.7" fill="#1a1a1a" textLength="9.3" lengthAdjust="spacingAndGlyphs">3</text>
<path d="M459.1,716.5L468.0,708.6L468.0,724.5Z" fill="#1c1a0c"/><text x="469.8" y="724.9" font-size="13.2" fill="#1a1a1a" textLength="24.9" lengthAdjust="spacingAndGlyphs">{B}</text>
<path d="M466.2,714.5L473.5,708.0L473.5,721.0Z" fill="#9c6c10"/><text x="475.3" y="721.4" font-size="9.6" fill="#9c6c10" textLength="15.3" lengthAdjust="spacingAndGlyphs">(B)</text>
<path d="M464.7,730.9L473.5,723.0L473.5,738.7Z" fill="#9c6c10"/><text x="475.3" y="739.1" font-size="11.6" fill="#9c6c10" textLength="17.9" lengthAdjust="spacingAndGlyphs">(3)</text>
<path d="M479.7,745.7L489.0,737.4L489.0,754.0Z" fill="#1c1a0c"/><text x="490.8" y="754.4" font-size="13.8" fill="#1a1a1a" textLength="27.9" lengthAdjust="spacingAndGlyphs">{iii}</text>
<path d="M537.3,558.1L547.9,548.6L547.9,567.6Z" fill="#1c1a0c"/><text x="549.7" y="568.0" font-size="15.8" fill="#1a1a1a" textLength="24.3" lengthAdjust="spacingAndGlyphs">(4)</text>
<path d="M538.5,579.1L548.7,570.0L548.7,588.2Z" fill="#1c1a0c"/><text x="550.5" y="588.6" font-size="15.1" fill="#1a1a1a" textLength="10.5" lengthAdjust="spacingAndGlyphs">C</text>
<path d="M533.1,690.7L544.0,681.0L544.0,700.4Z" fill="#1c1a0c"/><text x="545.8" y="700.8" font-size="16.1" fill="#1a1a1a" textLength="11.0" lengthAdjust="spacingAndGlyphs">B</text>
<path d="M578.7,653.4L589.2,644.0L589.2,662.8Z" fill="#1c1a0c"/><text x="591.0" y="663.2" font-size="15.6" fill="#1a1a1a" textLength="9.9" lengthAdjust="spacingAndGlyphs">2</text>
<path d="M556.5,760.4L567.0,751.0L567.0,769.7Z" fill="#1c1a0c"/><text x="568.8" y="770.1" font-size="15.5" fill="#1a1a1a" textLength="9.9" lengthAdjust="spacingAndGlyphs">1</text>
<path d="M636.1,787.2L646.5,778.0L646.5,796.5Z" fill="#1c1a0c"/><text x="648.3" y="796.9" font-size="15.4" fill="#1a1a1a" textLength="10.5" lengthAdjust="spacingAndGlyphs">B</text>
<path d="M607.1,843.7L618.0,834.0L618.0,853.4Z" fill="#1c1a0c"/><text x="619.8" y="853.8" font-size="16.1" fill="#1a1a1a" textLength="10.2" lengthAdjust="spacingAndGlyphs">4</text>
<path d="M603.0,902.4L614.6,892.0L614.6,912.7Z" fill="#1c1a0c"/><text x="616.4" y="913.1" font-size="17.2" fill="#1a1a1a" textLength="10.9" lengthAdjust="spacingAndGlyphs">3</text>
<path d="M609.0,946.9L619.2,937.8L619.2,956.0Z" fill="#1c1a0c"/><text x="621.0" y="956.4" font-size="15.1" fill="#1a1a1a" textLength="9.6" lengthAdjust="spacingAndGlyphs">5</text>
<path d="M628.7,705.4L639.2,696.0L639.2,714.8Z" fill="#1c1a0c"/><text x="641.0" y="715.2" font-size="15.6" fill="#1a1a1a" textLength="10.7" lengthAdjust="spacingAndGlyphs">A</text>
<path d="M642.5,688.6L652.2,680.0L652.2,697.3Z" fill="#1c1a0c"/><text x="654.0" y="697.7" font-size="14.4" fill="#1a1a1a" textLength="10.0" lengthAdjust="spacingAndGlyphs">C</text>
<path d="M664.7,719.7L675.1,710.4L675.1,729.0Z" fill="#1c1a0c"/><text x="676.9" y="729.4" font-size="15.4" fill="#1a1a1a" textLength="10.6" lengthAdjust="spacingAndGlyphs">X</text>
<path d="M683.6,597.0L694.8,587.0L694.8,607.0Z" fill="#1c1a0c"/><text x="696.6" y="607.4" font-size="16.6" fill="#1a1a1a" textLength="11.4" lengthAdjust="spacingAndGlyphs">A</text>
<path d="M700.6,664.3L710.3,655.6L710.3,673.0Z" fill="#1c1a0c"/><text x="712.1" y="673.4" font-size="14.4" fill="#1a1a1a" textLength="9.9" lengthAdjust="spacingAndGlyphs">B</text>
<path d="M713.6,557.9L723.8,548.7L723.8,567.0Z" fill="#1c1a0c"/><text x="725.6" y="567.4" font-size="15.2" fill="#1a1a1a" textLength="28.8" lengthAdjust="spacingAndGlyphs">(W)</text>
<path d="M747.1,589.8L757.0,581.0L757.0,598.6Z" fill="#1c1a0c"/><text x="758.8" y="599.0" font-size="14.6" fill="#1a1a1a" textLength="10.0" lengthAdjust="spacingAndGlyphs">B</text>
<path d="M733.9,650.1L743.6,641.4L743.6,658.8Z" fill="#1c1a0c"/><text x="745.4" y="659.2" font-size="14.4" fill="#1a1a1a" textLength="9.9" lengthAdjust="spacingAndGlyphs">A</text>
<path d="M754.4,643.0L763.4,635.0L763.4,651.0Z" fill="#1c1a0c"/><text x="765.2" y="651.4" font-size="13.3" fill="#1a1a1a" textLength="19.6" lengthAdjust="spacingAndGlyphs">{i}</text>
<path d="M752.8,675.3L761.0,668.0L761.0,682.6Z" fill="#1c1a0c"/><text x="762.8" y="683.0" font-size="12.1" fill="#1a1a1a" textLength="21.2" lengthAdjust="spacingAndGlyphs">{ii}</text>
<path d="M752.9,689.7L762.6,681.0L762.6,698.4Z" fill="#1c1a0c"/><text x="764.4" y="698.8" font-size="14.4" fill="#1a1a1a" textLength="23.0" lengthAdjust="spacingAndGlyphs">(X)</text>
<path d="M791.8,502.6L801.9,493.6L801.9,511.6Z" fill="#1c1a0c"/><text x="803.7" y="512.0" font-size="14.9" fill="#1a1a1a" textLength="10.2" lengthAdjust="spacingAndGlyphs">A</text>
<path d="M798.5,511.8L808.0,503.4L808.0,520.3Z" fill="#1c1a0c"/><text x="809.8" y="520.7" font-size="14.0" fill="#1a1a1a" textLength="25.6" lengthAdjust="spacingAndGlyphs">{b}</text>
<path d="M775.2,540.3L784.5,532.0L784.5,548.6Z" fill="#1c1a0c"/><text x="786.3" y="549.0" font-size="13.8" fill="#1a1a1a" textLength="27.9" lengthAdjust="spacingAndGlyphs">{iii}</text>
<path d="M793.2,538.8L803.0,530.0L803.0,547.5Z" fill="#1c1a0c"/><text x="804.8" y="547.9" font-size="14.5" fill="#1a1a1a" textLength="26.2" lengthAdjust="spacingAndGlyphs">{a}</text>
<path d="M800.2,556.8L810.6,547.5L810.6,566.0Z" fill="#1c1a0c"/><text x="812.4" y="566.4" font-size="15.4" fill="#1a1a1a" textLength="10.5" lengthAdjust="spacingAndGlyphs">B</text>
<path d="M776.7,565.4L787.2,556.0L787.2,574.7Z" fill="#1c1a0c"/><text x="789.0" y="575.1" font-size="15.5" fill="#1a1a1a" textLength="32.1" lengthAdjust="spacingAndGlyphs">{iv}</text>
<path d="M491.3,837.2L500.5,829.0L500.5,845.5Z" fill="#1c1a0c"/><text x="502.3" y="845.9" font-size="14.5" fill="#1a1a1a" textLength="26.0" lengthAdjust="spacingAndGlyphs">{v}</text>
<path d="M491.4,848.5L500.9,840.0L500.9,857.0Z" fill="#1c1a0c"/><text x="502.7" y="857.4" font-size="15.0" fill="#1a1a1a" textLength="9.5" lengthAdjust="spacingAndGlyphs">5</text>
<path d="M491.4,861.1L500.9,852.6L500.9,869.6Z" fill="#1c1a0c"/><text x="502.7" y="870.0" font-size="15.0" fill="#1a1a1a" textLength="23.2" lengthAdjust="spacingAndGlyphs">(3)</text>
<path d="M594.3,964.6L609.0,951.5L609.0,977.7Z" fill="#1c1a0c"/><text x="610.8" y="978.1" font-size="20.5" fill="#1a1a1a" textLength="37.6" lengthAdjust="spacingAndGlyphs">{1}</text>
<path d="M775.5,448.2L789.4,435.8L789.4,460.6Z" fill="#1c1a0c"/><text x="791.2" y="461.0" font-size="20.5" fill="#1a1a1a" textLength="37.6" lengthAdjust="spacingAndGlyphs">{2}</text>
</g>
<rect x="975" y="427.8" width="27" height="15" fill="#ece61c"/>
<rect x="975" y="476.2" width="9" height="14.4" fill="#ece61c"/>
<text x="978.3" y="966.3" font-size="10.8" font-weight="normal" fill="#000" textLength="18.1" lengthAdjust="spacingAndGlyphs">650</text>
<text x="978.3" y="928.3" font-size="10.8" font-weight="normal" fill="#000" textLength="18.1" lengthAdjust="spacingAndGlyphs">675</text>
<text x="978.3" y="891.7" font-size="10.8" font-weight="normal" fill="#000" textLength="18.1" lengthAdjust="spacingAndGlyphs">700</text>
<text x="978.3" y="856.4" font-size="10.8" font-weight="normal" fill="#000" textLength="18.1" lengthAdjust="spacingAndGlyphs">725</text>
<text x="978.3" y="822.2" font-size="10.8" font-weight="normal" fill="#000" textLength="18.1" lengthAdjust="spacingAndGlyphs">750</text>
<text x="978.3" y="789.2" font-size="10.8" font-weight="normal" fill="#000" textLength="18.1" lengthAdjust="spacingAndGlyphs">775</text>
<text x="978.3" y="757.2" font-size="10.8" font-weight="normal" fill="#000" textLength="18.1" lengthAdjust="spacingAndGlyphs">800</text>
<text x="978.3" y="726.2" font-size="10.8" font-weight="normal" fill="#000" textLength="18.1" lengthAdjust="spacingAndGlyphs">825</text>
<text x="978.3" y="696.2" font-size="10.8" font-weight="normal" fill="#000" textLength="18.1" lengthAdjust="spacingAndGlyphs">850</text>
<text x="978.3" y="667.0" font-size="10.8" font-weight="normal" fill="#000" textLength="18.1" lengthAdjust="spacingAndGlyphs">875</text>
<text x="978.3" y="638.6" font-size="10.8" font-weight="normal" fill="#000" textLength="18.1" lengthAdjust="spacingAndGlyphs">900</text>
<text x="978.3" y="611.0" font-size="10.8" font-weight="normal" fill="#000" textLength="18.1" lengthAdjust="spacingAndGlyphs">925</text>
<text x="978.3" y="584.1" font-size="10.8" font-weight="normal" fill="#000" textLength="18.1" lengthAdjust="spacingAndGlyphs">950</text>
<text x="978.3" y="558.0" font-size="10.8" font-weight="normal" fill="#000" textLength="18.1" lengthAdjust="spacingAndGlyphs">975</text>
<text x="978.3" y="532.5" font-size="10.8" font-weight="normal" fill="#000" textLength="26.3" lengthAdjust="spacingAndGlyphs">1,000</text>
<text x="978.3" y="507.6" font-size="10.8" font-weight="normal" fill="#000" textLength="26.3" lengthAdjust="spacingAndGlyphs">1,025</text>
<text x="978.3" y="483.3" font-size="10.8" font-weight="normal" fill="#000" textLength="26.3" lengthAdjust="spacingAndGlyphs">1,050</text>
<text x="978.3" y="459.6" font-size="10.8" font-weight="normal" fill="#000" textLength="26.3" lengthAdjust="spacingAndGlyphs">1,075</text>
<text x="978.3" y="436.5" font-size="10.8" font-weight="normal" fill="#000" textLength="26.3" lengthAdjust="spacingAndGlyphs">1,100</text>
<text x="978.3" y="413.9" font-size="10.8" font-weight="normal" fill="#000" textLength="26.3" lengthAdjust="spacingAndGlyphs">1,125</text>
<text x="978.3" y="391.7" font-size="10.8" font-weight="normal" fill="#000" textLength="26.3" lengthAdjust="spacingAndGlyphs">1,150</text>
<text x="978.3" y="370.1" font-size="10.8" font-weight="normal" fill="#000" textLength="26.3" lengthAdjust="spacingAndGlyphs">1,175</text>
<text x="978.3" y="348.9" font-size="10.8" font-weight="normal" fill="#000" textLength="26.3" lengthAdjust="spacingAndGlyphs">1,200</text>
<text x="978.3" y="328.1" font-size="10.8" font-weight="normal" fill="#000" textLength="26.3" lengthAdjust="spacingAndGlyphs">1,225</text>
<text x="978.3" y="307.7" font-size="10.8" font-weight="normal" fill="#000" textLength="26.3" lengthAdjust="spacingAndGlyphs">1,250</text>
<text x="978.3" y="287.8" font-size="10.8" font-weight="normal" fill="#000" textLength="26.3" lengthAdjust="spacingAndGlyphs">1,275</text>
<text x="978.3" y="268.2" font-size="10.8" font-weight="normal" fill="#000" textLength="26.3" lengthAdjust="spacingAndGlyphs">1,300</text>
<text x="978.3" y="249.1" font-size="10.8" font-weight="normal" fill="#000" textLength="26.3" lengthAdjust="spacingAndGlyphs">1,325</text>
<text x="978.3" y="230.2" font-size="10.8" font-weight="normal" fill="#000" textLength="26.3" lengthAdjust="spacingAndGlyphs">1,350</text>
<text x="978.3" y="211.8" font-size="10.8" font-weight="normal" fill="#000" textLength="26.3" lengthAdjust="spacingAndGlyphs">1,375</text>
<text x="978.3" y="193.6" font-size="10.8" font-weight="normal" fill="#000" textLength="26.3" lengthAdjust="spacingAndGlyphs">1,400</text>
<text x="978.3" y="175.8" font-size="10.8" font-weight="normal" fill="#000" textLength="26.3" lengthAdjust="spacingAndGlyphs">1,425</text>
<text x="978.3" y="158.3" font-size="10.8" font-weight="normal" fill="#000" textLength="26.3" lengthAdjust="spacingAndGlyphs">1,450</text>
<text x="978.3" y="141.0" font-size="10.8" font-weight="normal" fill="#000" textLength="26.3" lengthAdjust="spacingAndGlyphs">1,475</text>
<text x="978.3" y="124.1" font-size="10.8" font-weight="normal" fill="#000" textLength="26.3" lengthAdjust="spacingAndGlyphs">1,500</text>
<text x="978.3" y="107.5" font-size="10.8" font-weight="normal" fill="#000" textLength="26.3" lengthAdjust="spacingAndGlyphs">1,525</text>
<text x="978.3" y="91.1" font-size="10.8" font-weight="normal" fill="#000" textLength="26.3" lengthAdjust="spacingAndGlyphs">1,550</text>
<text x="978.3" y="75.0" font-size="10.8" font-weight="normal" fill="#000" textLength="26.3" lengthAdjust="spacingAndGlyphs">1,575</text>
<text x="978.3" y="59.1" font-size="10.8" font-weight="normal" fill="#000" textLength="26.3" lengthAdjust="spacingAndGlyphs">1,600</text>
<rect x="975" y="495" width="51" height="17" fill="#0c0c04"/>
<text x="977.5" y="508.5" font-size="11" font-weight="bold" fill="#fff" textLength="46.0" lengthAdjust="spacingAndGlyphs">1,024.51</text>
</svg></body></html>
